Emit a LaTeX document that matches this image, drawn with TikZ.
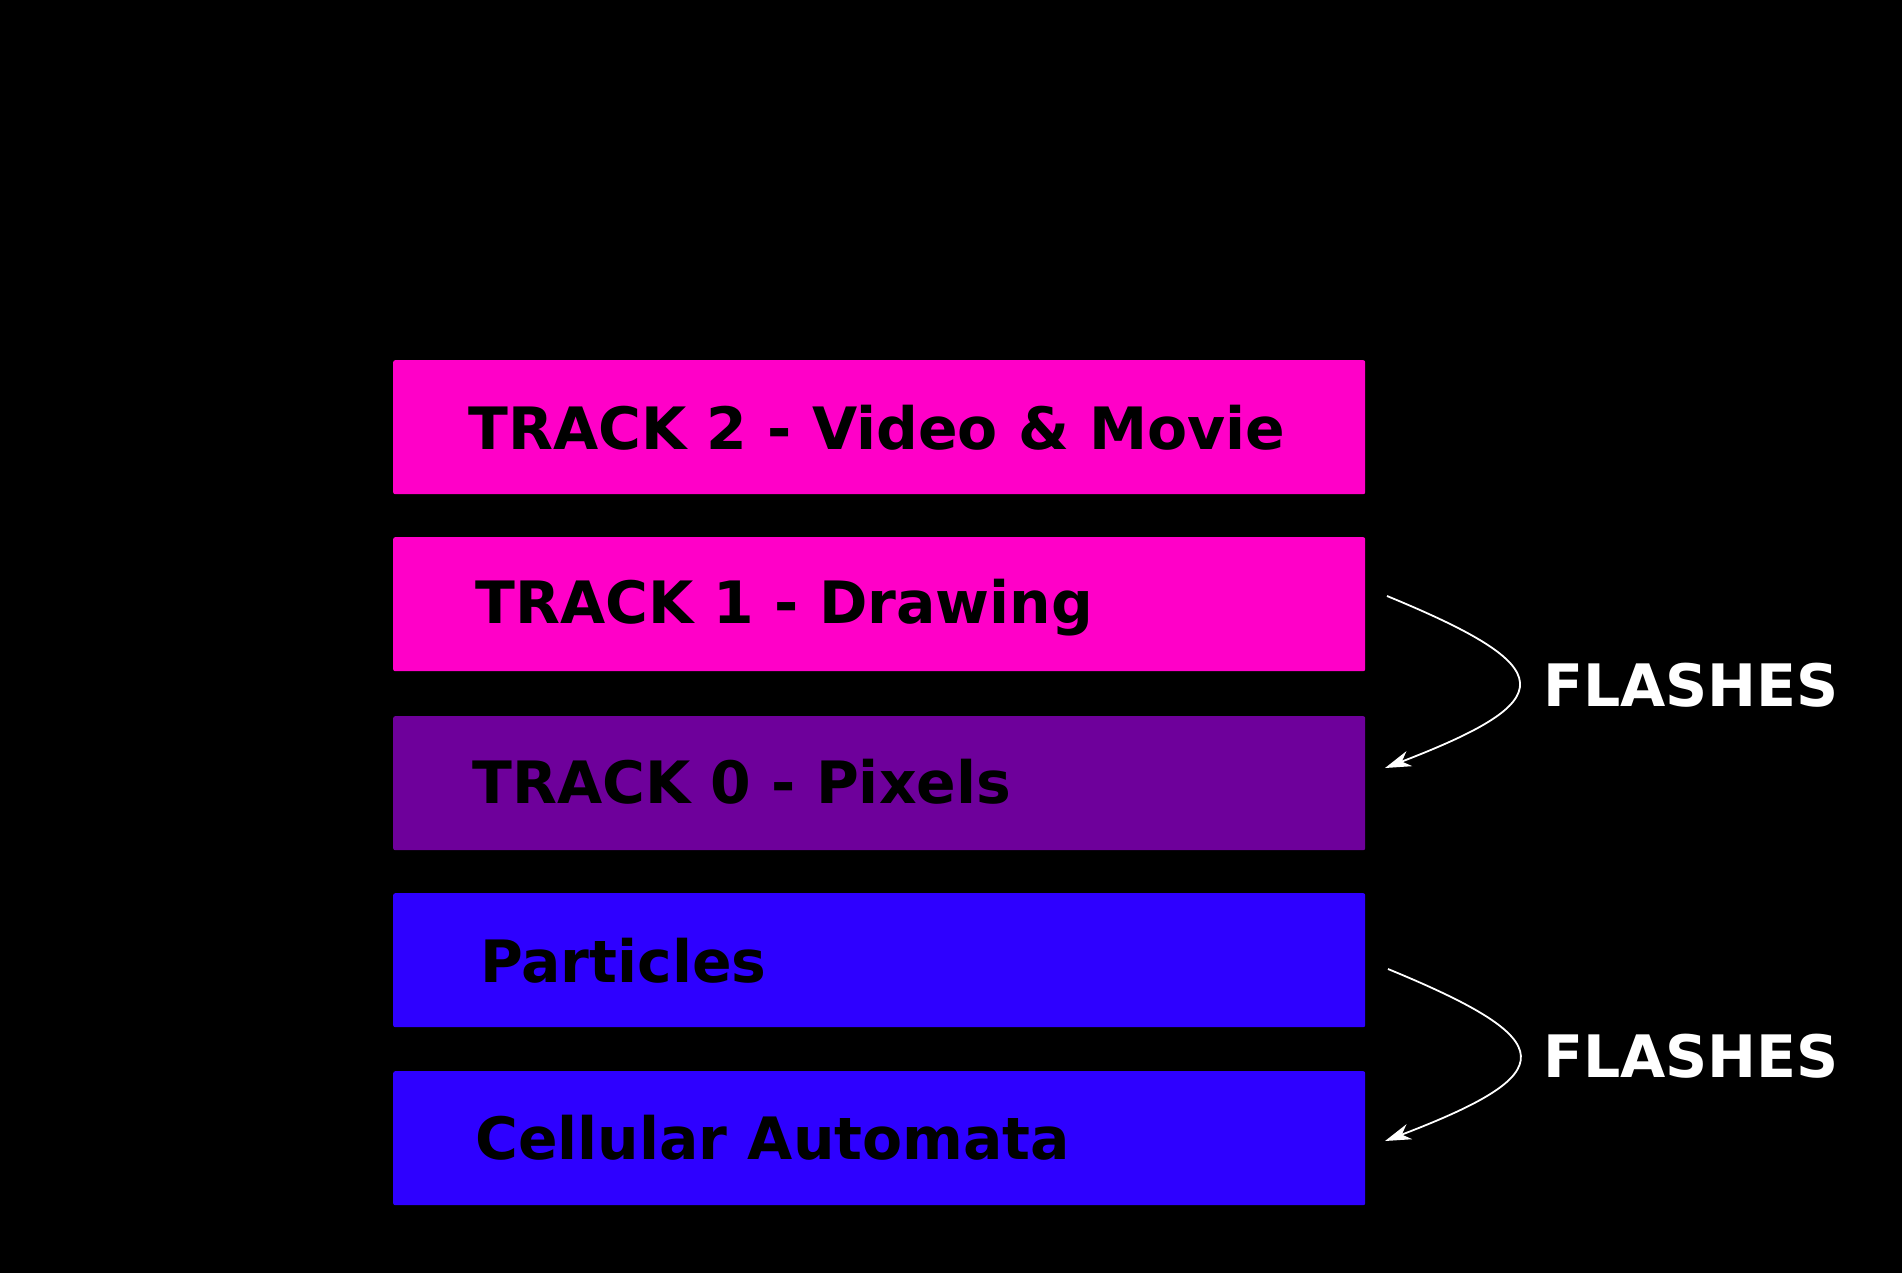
\documentclass[tikz,border=0pt]{standalone}
\usepackage{fontspec}
\setmainfont{DejaVu Sans}
\usetikzlibrary{arrows.meta}
\definecolor{pinkc}{RGB}{255,0,200}
\definecolor{purplec}{RGB}{110,0,155}
\definecolor{bluec}{RGB}{46,0,255}
\tikzset{
  track/.style={rectangle, rounded corners=2pt, inner sep=0pt, minimum width=972pt, minimum height=134pt, anchor=north west},
  tracklabel/.style={anchor=base west, inner sep=0pt, font=\fontsize{58.4}{70}\selectfont\bfseries, text=black},
  flashlabel/.style={anchor=base west, inner sep=0pt, font=\fontsize{58.5}{72}\selectfont\bfseries, text=white},
  flash/.style={draw=white, line width=1.8pt, -{Stealth[length=26pt,width=16pt,inset=8pt,fill=white]}}
}
\begin{document}
\begin{tikzpicture}[x=1pt,y=-1pt]
\fill[black] (0,0) rectangle (1902,1273);
\useasboundingbox (0,0) rectangle (1902,1273);
\node[track, fill=pinkc] (b2) at (393,360) {};
\node[track, fill=pinkc] (b1) at (393,537) {};
\node[track, fill=purplec] (b0) at (393,716) {};
\node[track, fill=bluec] (bp) at (393,893) {};
\node[track, fill=bluec] (bc) at (393,1071) {};
\node[tracklabel] (t2) at (468,449) {TRACK 2 - Video \& Movie};
\node[tracklabel] (t1) at (475,623) {TRACK 1 - Drawing};
\node[tracklabel] (t0) at (472,803) {TRACK 0 - Pixels};
\node[tracklabel] (tp) at (480,982) {Particles};
\node[tracklabel] (tc) at (475,1159) {Cellular Automata};
\coordinate (a1s) at (1387,596);
\coordinate (a1e) at (1385,768);
\coordinate (a2s) at (1388,969);
\coordinate (a2e) at (1385,1141);
\draw[flash] (a1s) .. controls (1562,668) and (1562,700) .. (a1e);
\draw[flash] (a2s) .. controls (1563,1041) and (1563,1073) .. (a2e);
\node[flashlabel] (f1) at (1543,706) {FLASHES};
\node[flashlabel] (f2) at (1543,1077) {FLASHES};
\end{tikzpicture}
\end{document}
